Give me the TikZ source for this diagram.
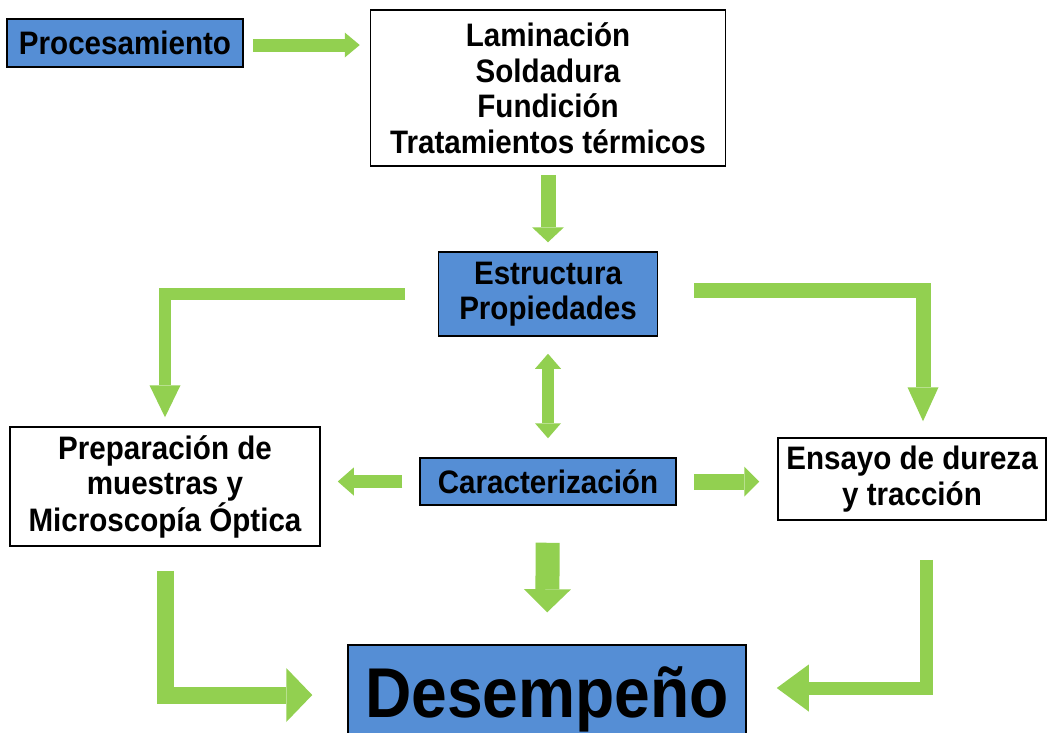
\documentclass[tikz,border=0pt]{standalone}
\usepackage{fontspec}
\setmainfont{Liberation Sans}[FakeStretch=0.91]
\usetikzlibrary{arrows.meta, calc}

\definecolor{boxblue}{RGB}{85,142,213}
\definecolor{arrowgreen}{RGB}{146,208,80}

\tikzset{
  box/.style={draw=black, line width=1.5pt, align=center, inner sep=0pt,
    font=\fontsize{32.5}{35.5}\selectfont\bfseries},
  bluebox/.style={box, fill=boxblue},
  whitebox/.style={box, fill=white},
  garrow/.style={draw=arrowgreen, line join=miter},
}

\begin{document}
\begin{tikzpicture}[x=1pt, y=-1pt]
    \clip (0,0) rectangle (1049,732);
    \fill[white] (0,0) rectangle (1049,732);

    % Draw the boxes
    \node[bluebox, minimum width=236pt, minimum height=48pt] (proc) at (125,43) {Procesamiento};
    \node[whitebox, minimum width=355pt, minimum height=156pt] (lam) at (548,88)
        {Laminación\\Soldadura\\Fundición\\Tratamientos térmicos};
    \node[bluebox, minimum width=219pt, minimum height=84pt] (estr) at (548,294) {Estructura\\Propiedades};
    \node[bluebox, minimum width=256pt, minimum height=47pt] (carac) at (548,481.5) {Caracterización};
    \node[whitebox, minimum width=310pt, minimum height=119pt] (prep) at (165,486.5)
        {Preparación de\\muestras y\\Microscopía Óptica};
    \node[whitebox, minimum width=268pt, minimum height=82pt] (ensayo) at (912,479) {Ensayo de dureza\\y tracción};
    \node[bluebox, font=\fontsize{70.5}{70}\selectfont\bfseries, minimum width=398pt,
        text height=72pt, text depth=28pt, anchor=base] (desemp) at (547,717) {Desempeño};

    % Draw the arrows
    \draw[garrow, line width=13pt, -{Triangle[length=15pt, width=25pt, line width=0pt]}, shorten >=10pt]
        ([xshift=9pt, yshift=-2pt]proc.east) -- ([yshift=-2pt]proc.east -| lam.west);
    \draw[garrow, line width=15pt, -{Triangle[length=15pt, width=32pt, line width=0pt]}, shorten <=8pt, shorten >=9pt]
        (lam.south) -- (estr.north);
    \draw[garrow, line width=12pt, -{Triangle[length=32pt, width=31pt, line width=0pt]}, shorten >=9pt]
        ([xshift=-33pt]estr.west) -| (prep.north);
    \draw[garrow, line width=15pt, -{Triangle[length=34pt, width=31pt, line width=0pt]}, shorten >=16pt]
        ([xshift=36pt, yshift=4pt]estr.east) -| ([xshift=11pt]ensayo.north);
    \draw[garrow, line width=12pt, {Triangle[length=15pt, width=26pt, line width=0pt]}-{Triangle[length=15pt, width=26pt, line width=0pt]},
        shorten <=17pt, shorten >=19pt]
        (estr.south) -- (carac.north);
    \draw[garrow, line width=13pt, -{Triangle[length=16pt, width=28pt, line width=0pt]}, shorten <=17pt, shorten >=17pt]
        (carac.west) -- (carac.west -| prep.east);
    \draw[garrow, line width=16pt, -{Triangle[length=15pt, width=30pt, line width=0pt]}, shorten <=17pt, shorten >=18pt]
        (carac.east) -- (carac.east -| ensayo.west);
    \draw[garrow, line width=24pt, -{Triangle[length=23pt, width=47pt, line width=0pt]}, shorten <=37pt, shorten >=32pt]
        (carac.south) -- (desemp.north);
    \draw[garrow, line width=17pt, -{Triangle[length=26pt, width=54pt, line width=0pt]}, shorten <=24pt, shorten >=35pt]
        (prep.south) |- (desemp.west);
    \draw[garrow, line width=13pt, -{Triangle[length=32pt, width=47pt, line width=0pt]}, shorten <=39pt, shorten >=30pt]
        ([xshift=14pt]ensayo.south) |- ([yshift=7pt]desemp.east);
\end{tikzpicture}
\end{document}
